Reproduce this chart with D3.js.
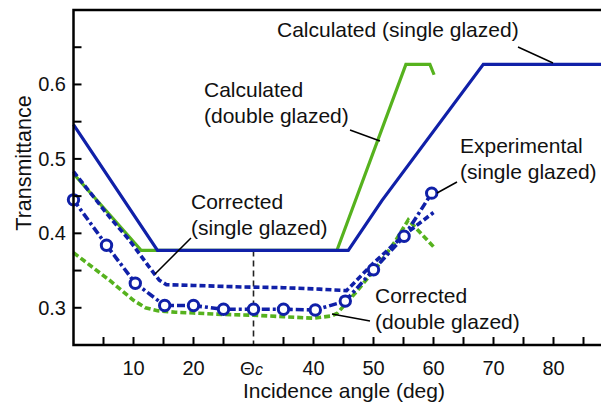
<!DOCTYPE html>
<html><head><meta charset="utf-8">
<script src="https://cdn.jsdelivr.net/npm/d3@7"></script>
<style>body{margin:0;background:#fff}svg{display:block;font-family:"Liberation Sans",Arial,sans-serif}</style>
</head><body><svg id="c" width="601" height="405"></svg>
<script>
// Data (angle in degrees, transmittance)
const calcSingleX = [0, 14, 45.8, 51.4, 68.3, 90];
const calcSingleY = [0.546, 0.377, 0.377, 0.444, 0.627, 0.627];
const calcDoubleX = [0, 11.3, 43.9, 55.4, 59.4, 60.1];
const calcDoubleY = [0.480, 0.377, 0.377, 0.627, 0.627, 0.613];
const corrSingleX = [0, 6, 9.3, 12.5, 14.3, 15.5, 20, 28, 35, 41, 45.5, 50, 55, 60];
const corrSingleY = [0.483, 0.422, 0.391, 0.356, 0.337, 0.331, 0.330, 0.328, 0.327, 0.325, 0.323, 0.360, 0.397, 0.428];
const corrDoubleX = [0, 6, 10, 12, 14, 17, 20, 25, 30, 35, 40, 43, 44, 47.2, 50.6, 53.6, 55.8, 60];
const corrDoubleY = [0.374, 0.337, 0.310, 0.300, 0.296, 0.294, 0.293, 0.291, 0.290, 0.288, 0.286, 0.289, 0.293, 0.322, 0.355, 0.389, 0.418, 0.382];
const expX = [0, 5.5, 10.3, 15.2, 20, 25, 30, 35, 40.3, 45.3, 50, 55.1, 59.7];
const expY = [0.445, 0.384, 0.333, 0.303, 0.303, 0.298, 0.298, 0.298, 0.297, 0.309, 0.351, 0.396, 0.454];
const xTicks = [5, 10, 15, 20, 25, 35, 40, 45, 50, 55, 60, 65, 70, 75, 80, 85];
const xLabels = [10, 20, 40, 50, 60, 70, 80];
const yTicks = [0.3, 0.35, 0.4, 0.45, 0.5, 0.55, 0.6, 0.65];
const yLabels = [0.3, 0.4, 0.5, 0.6];
const thetaC = 30;

const blue = "#1020a8", green = "#56b21e";
const svg = d3.select("#c");
const x = d3.scaleLinear().domain([0, 90]).range([73.5, 613.5]);
const y = d3.scaleLinear().domain([0.25, 0.7]).range([345, 10]);
const zip = (xs, ys) => xs.map((v, i) => [v, ys[i]]);
const line = d3.line().x(d => x(d[0])).y(d => y(d[1]));

// critical angle dashed line
svg.append("line").attr("x1", x(thetaC)).attr("x2", x(thetaC))
  .attr("y1", y(0.377)).attr("y2", y(0.25))
  .attr("stroke", "#222").attr("stroke-width", 1.6).attr("stroke-dasharray", "6,4");

const series = [
  {d: zip(calcDoubleX, calcDoubleY), c: green, w: 3.2, dash: null},
  {d: zip(calcSingleX, calcSingleY), c: blue, w: 3.2, dash: null},
  {d: zip(corrDoubleX, corrDoubleY), c: green, w: 3.6, dash: "6,3"},
  {d: zip(corrSingleX, corrSingleY), c: blue, w: 3.6, dash: "6,3"},
  {d: zip(expX, expY), c: blue, w: 3.6, dash: "8,3,3,3"}
];
series.forEach(s => {
  svg.append("path").attr("d", line(s.d)).attr("fill", "none")
    .attr("stroke", s.c).attr("stroke-width", s.w)
    .attr("stroke-dasharray", s.dash).attr("stroke-linejoin", "miter");
});
svg.selectAll("circle.e").data(zip(expX, expY)).enter().append("circle")
  .attr("cx", d => x(d[0])).attr("cy", d => y(d[1])).attr("r", 5.2)
  .attr("fill", "#fff").attr("stroke", blue).attr("stroke-width", 3);

// axes frame
const ax = svg.append("g").attr("stroke", "#000").attr("stroke-width", 2.5).attr("fill", "none");
ax.append("path").attr("d", `M601,${y(0.7)}H${x(0)}V${y(0.25)}H601`);
xTicks.forEach(t => ax.append("line").attr("x1", x(t)).attr("x2", x(t))
  .attr("y1", y(0.25)).attr("y2", y(0.25) - 8).attr("stroke-width", 2));
yTicks.forEach(t => ax.append("line").attr("x1", x(0)).attr("x2", x(0) + 8)
  .attr("y1", y(t)).attr("y2", y(t)).attr("stroke-width", 2));

const txt = svg.append("g").attr("fill", "#111");
xLabels.forEach(t => txt.append("text").attr("x", x(t)).attr("y", 375)
  .attr("text-anchor", "middle").attr("font-size", 20).text(t));
const th = txt.append("text").attr("x", x(thetaC) - 2).attr("y", 375).attr("text-anchor", "middle").attr("font-size", 19);
th.append("tspan").text("Θ");
th.append("tspan").attr("font-style", "italic").attr("font-size", 16).text("c");
yLabels.forEach(t => txt.append("text").attr("x", 66).attr("y", y(t) + 7)
  .attr("text-anchor", "end").attr("font-size", 20).text(d3.format(".1f")(t)));
txt.append("text").attr("x", 344).attr("y", 398).attr("text-anchor", "middle")
  .attr("font-size", 21).text("Incidence angle (deg)");
txt.append("text").attr("transform", "translate(31,163) rotate(-90)").attr("text-anchor", "middle")
  .attr("font-size", 21.5).text("Transmittance");

// annotations
const ann = [
  {x: 277, y: 37, t: ["Calculated (single glazed)"]},
  {x: 204, y: 97, t: ["Calculated", "(double glazed)"]},
  {x: 460, y: 153, t: ["Experimental", "(single glazed)"]},
  {x: 191, y: 209, t: ["Corrected", "(single glazed)"]},
  {x: 375, y: 303, t: ["Corrected", "(double glazed)"]}
];
ann.forEach(a => a.t.forEach((s, i) => txt.append("text").attr("x", a.x).attr("y", a.y + i * 25.5)
  .attr("font-size", 21).text(s)));
const leaders = [
  [518, 47, 553, 63], [350, 130, 380, 141], [457, 182, 437, 193],
  [191, 238, 155, 274], [370, 321, 332, 314]
];
leaders.forEach(l => svg.append("line").attr("x1", l[0]).attr("y1", l[1]).attr("x2", l[2]).attr("y2", l[3])
  .attr("stroke", "#000").attr("stroke-width", 1.5));
</script></body></html>
